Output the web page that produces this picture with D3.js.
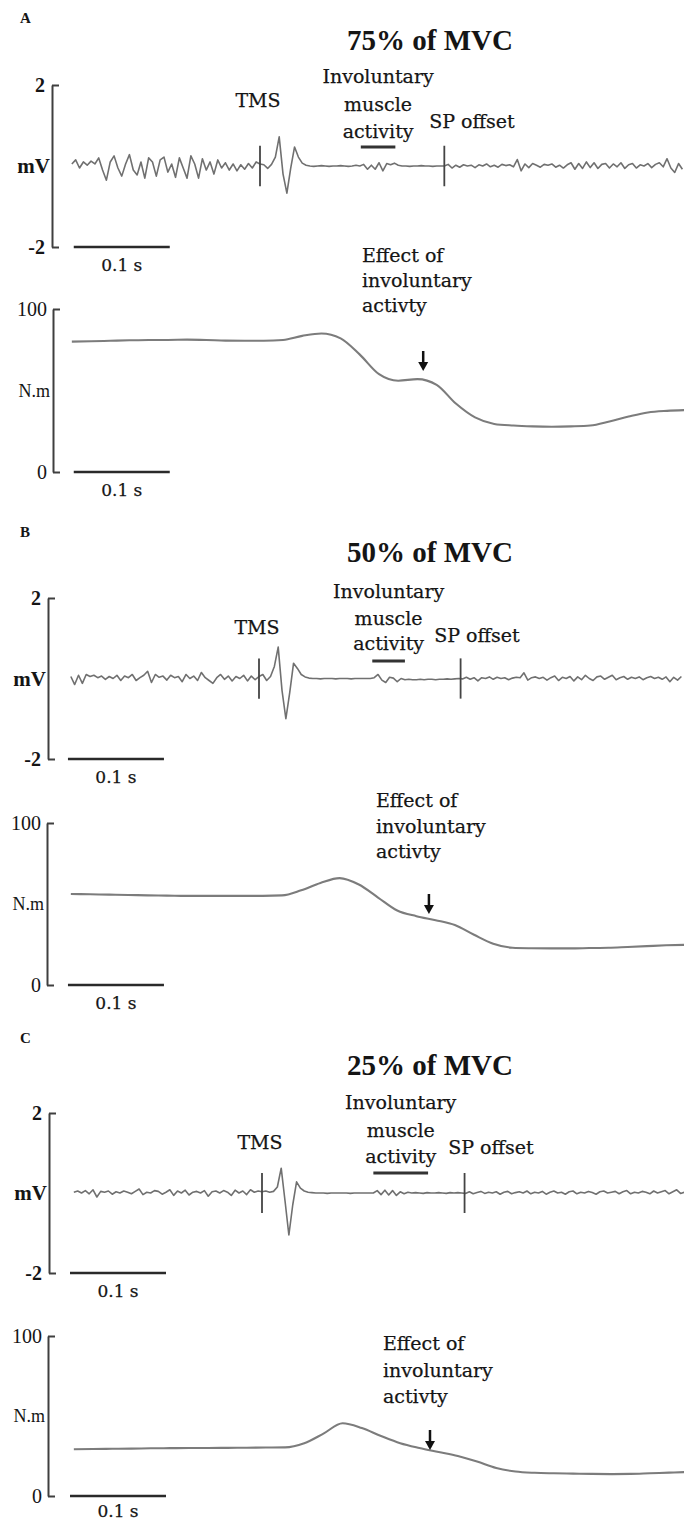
<!DOCTYPE html>
<html>
<head>
<meta charset="utf-8">
<script src="https://cdn.jsdelivr.net/npm/d3@7"></script>
<style>
  body { margin: 0; background: #fff; }
  svg { display: block; }
  text { fill: #151515; }
  .note { stroke: #151515; stroke-width: 0.25px; }
</style>
</head>
<body>
<div class="chart"></div>
<script>
// EMG samples every 4 ms, first sample 196 ms before the TMS pulse (mV)
const emgStart = -0.196, emgStep = 0.004;
const emgA = [
  0.05, 0.15, -0.05, 0.10, 0.02, 0.12, 0.05, 0.20, -0.10, -0.35,
  0.10, 0.25, -0.05, -0.25, 0.05, 0.28, -0.10, -0.22, 0.10, -0.30,
  0.20, 0.10, -0.25, 0.15, 0.22, -0.15, 0.05, -0.28, 0.20, -0.05,
  -0.30, 0.25, 0.05, -0.30, 0.18, -0.10, 0.10, -0.20, 0.15, -0.05,
  0.08, -0.10, 0.05, -0.12, 0.03, -0.08, 0.06, -0.05, 0.10, 0.05,
  0.03, -0.06, 0.04, 0.22, 0.72, -0.20, -0.67, -0.05, 0.47, 0.22,
  0.07, 0.02, 0.00, -0.01, 0.00, 0.01, 0.00, -0.01, 0.00, 0.00,
  0.01, 0.00, -0.01, 0.00, 0.02, 0.00, 0.04, -0.08, 0.02, -0.08,
  0.08, -0.12, 0.06, 0.03, 0.07, 0.02, 0.00, 0.00, -0.01, 0.00,
  0.00, 0.01, 0.00, 0.00, -0.01, 0.00, 0.00, 0.00, 0.04, -0.05,
  0.02, -0.03, 0.03, 0.00, 0.02, -0.04, 0.03, 0.00, 0.05, -0.02,
  0.02, -0.03, 0.04, 0.01, 0.03, -0.02, 0.16, -0.12, 0.05, -0.04,
  0.06, 0.02, -0.03, 0.04, 0.02, 0.05, -0.03, 0.02, -0.05, 0.03,
  0.08, -0.08, 0.06, -0.06, 0.10, -0.04, 0.08, -0.06, 0.04, 0.06,
  -0.05, 0.05, -0.02, 0.08, -0.06, 0.03, 0.06, -0.05, 0.03, 0.00,
  0.06, -0.04, 0.04, 0.08, -0.02, 0.18, -0.05, -0.16, 0.06, -0.08
];
const emgB = [
  0.05, -0.15, 0.08, -0.12, 0.10, 0.05, 0.08, 0.02, 0.06, -0.02,
  0.05, 0.00, 0.08, -0.05, 0.06, 0.02, 0.10, -0.05, 0.02, 0.08,
  0.18, -0.10, 0.10, 0.03, 0.06, -0.04, 0.08, 0.02, 0.05, -0.08,
  0.10, 0.00, 0.06, -0.05, 0.15, 0.02, -0.05, -0.12, 0.02, 0.10,
  -0.02, 0.06, -0.06, 0.05, 0.00, 0.08, -0.06, 0.06, -0.03, 0.05,
  0.10, -0.05, 0.05, 0.30, 0.78, -0.30, -1.00, -0.35, 0.38, 0.25,
  0.10, 0.04, 0.01, 0.00, 0.00, -0.01, 0.00, 0.00, 0.00, -0.01,
  0.00, 0.00, 0.00, -0.01, 0.00, 0.00, 0.00, 0.00, 0.00, 0.02,
  0.10, -0.04, -0.10, 0.03, 0.01, -0.08, 0.00, -0.03, -0.02, -0.03,
  -0.03, -0.02, -0.03, -0.02, -0.02, -0.03, -0.02, -0.02, -0.01, -0.02,
  -0.01, 0.00, -0.01, 0.03, -0.02, 0.02, -0.06, 0.02, 0.00, 0.04,
  -0.02, 0.03, 0.00, 0.02, -0.03, 0.01, 0.03, 0.02, 0.14, -0.04,
  0.02, 0.04, 0.00, 0.03, -0.04, 0.02, 0.06, -0.05, 0.03, 0.00,
  0.05, -0.06, 0.04, -0.03, 0.08, 0.00, -0.05, 0.04, 0.06, -0.02,
  0.03, 0.08, -0.03, 0.02, 0.05, -0.02, 0.03, 0.00, 0.04, -0.03,
  0.02, 0.05, 0.00, 0.03, -0.02, 0.04, -0.08, 0.03, -0.04, 0.05
];
const emgC = [
  0.02, 0.05, 0.00, 0.06, -0.02, 0.08, -0.10, 0.04, 0.02, 0.05,
  -0.03, 0.03, 0.00, 0.05, 0.02, -0.02, 0.04, 0.10, -0.04, 0.02,
  0.00, 0.06, 0.04, -0.03, 0.02, 0.08, -0.06, 0.05, 0.00, 0.07,
  -0.05, 0.02, 0.04, 0.00, 0.06, -0.08, 0.03, 0.05, 0.00, 0.06,
  0.02, -0.06, 0.07, 0.00, 0.05, -0.04, 0.08, 0.02, 0.05, 0.03,
  0.05, 0.02, 0.04, 0.15, 0.62, -0.20, -1.05, -0.30, 0.28, 0.12,
  0.05, 0.02, 0.01, 0.00, 0.00, 0.00, -0.01, 0.00, 0.00, 0.00,
  0.00, 0.00, -0.01, 0.00, 0.00, 0.00, 0.00, 0.00, 0.00, 0.06,
  -0.04, 0.07, -0.05, 0.06, -0.06, 0.03, -0.02, 0.02, 0.00, 0.01,
  0.00, -0.01, 0.01, 0.00, 0.00, 0.01, 0.00, -0.01, 0.01, 0.00,
  0.01, 0.00, -0.01, 0.03, -0.02, 0.01, 0.04, -0.01, 0.02, 0.00,
  0.03, -0.03, 0.02, 0.04, -0.02, 0.01, 0.03, 0.00, 0.05, -0.02,
  0.02, 0.00, 0.04, -0.03, 0.02, 0.05, 0.00, 0.02, -0.03, 0.03,
  0.05, -0.02, 0.02, 0.00, 0.04, 0.01, -0.03, 0.03, 0.05, 0.00,
  0.02, 0.04, -0.02, 0.03, 0.06, -0.02, 0.02, 0.00, 0.04, 0.02,
  -0.02, 0.05, 0.00, 0.03, 0.06, -0.02, 0.03, 0.08, -0.01, 0.02
];

// Torque samples every 20 ms, same start time (N.m)
const torqueStart = -0.196, torqueStep = 0.02;
const torqueA = [80.0, 80.2, 80.5, 80.8, 81.0, 81.0, 81.2, 81.0, 80.6, 80.5, 80.5,
  81.0, 83.5, 85.0, 82.0, 72.0, 60.0, 56.0, 57.0, 53.5, 42.0, 33.5, 29.5, 28.5,
  28.0, 27.8, 28.0, 28.5, 31.0, 34.0, 36.5, 37.5, 38.0];
const torqueB = [56.2, 56.0, 55.8, 55.6, 55.3, 55.2, 55.0, 55.0, 55.0, 55.0, 55.0,
  55.3, 58.5, 63.0, 66.0, 62.0, 54.0, 46.0, 42.5, 40.0, 37.0, 31.0, 25.5, 23.0,
  22.7, 22.6, 22.6, 22.8, 23.0, 23.5, 24.0, 24.5, 24.8];
const torqueC = [29.2, 29.4, 29.5, 29.6, 29.8, 29.9, 30.0, 30.0, 30.1, 30.2, 30.3,
  30.4, 33.0, 39.0, 45.5, 42.5, 37.5, 33.0, 30.0, 27.5, 25.0, 21.5, 17.5, 15.3,
  14.5, 14.2, 14.0, 13.8, 13.7, 13.8, 14.2, 14.6, 15.0];

const panelLetters = ["A", "B", "C"];
const titles = ["75% of MVC", "50% of MVC", "25% of MVC"];
const spOffsetTimes = [0.192, 0.210, 0.211];          // s after TMS
const activityWindows = [[0.105, 0.141], [0.118, 0.152], [0.116, 0.173]];
const arrowTimes = [0.170, 0.177, 0.175];
const scaleBarStart = [-0.194, -0.199, -0.200];
const emgTicks = [2, -2];
const torqueTicks = [100, 0];
const involLines = ["Involuntary", "muscle", "activity"];
const effectLines = ["Effect of", "involuntary", "activty"];

// page positions of each panel
const layout = [
  {tmsX: 260, emgAxisX: 52, emgTop: 85, emgBottom: 247, tqAxisX: 53, tqTop: 309, tqBottom: 472,
   letterY: 23, titleY: 50, tmsLabelY: 107, involY: [83, 111, 138], barY: 147, spLabelX: 472, spLabelY: 128,
   effectX: 362, effectY: [262, 287, 312], arrowTop: 351, arrowBottom: 371},
  {tmsX: 259, emgAxisX: 48, emgTop: 598, emgBottom: 759, tqAxisX: 47, tqTop: 823, tqBottom: 985,
   letterY: 537, titleY: 562, tmsLabelY: 634, involY: [598, 625, 650], barY: 661, spLabelX: 477, spLabelY: 642,
   effectX: 376, effectY: [807, 833, 858], arrowTop: 894, arrowBottom: 914},
  {tmsX: 262, emgAxisX: 49, emgTop: 1113, emgBottom: 1273, tqAxisX: 48, tqTop: 1336, tqBottom: 1496,
   letterY: 1043, titleY: 1075, tmsLabelY: 1149, involY: [1109, 1137, 1163], barY: 1173, spLabelX: 491, spLabelY: 1154,
   effectX: 383, effectY: [1350, 1377, 1403], arrowTop: 1430, arrowBottom: 1450}
];

const emgData = [emgA, emgB, emgC];
const torqueData = [torqueA, torqueB, torqueC];

const serif = "'Liberation Serif', 'Times New Roman', serif";
const book = "'DejaVu Serif', serif";

const svg = d3.select(".chart")
    .append("svg")
    .attr("width", 684)
    .attr("height", 1521);

function styleAxis(axisG, bold, size) {
    axisG.attr("font-family", serif).attr("font-size", size);
    axisG.select(".domain").attr("stroke", "#3f3f3f").attr("stroke-width", 2);
    axisG.selectAll(".tick line").attr("stroke", "#3f3f3f").attr("stroke-width", 2);
    axisG.selectAll(".tick text").attr("fill", "#151515").attr("font-weight", bold ? "bold" : "normal")
        .attr("dy", "0.34em");
}

layout.forEach((L, p) => {
    const g = svg.append("g");

    // time scale: 0.1 s = 96 px, TMS at t = 0
    const x = d3.scaleLinear().domain([0, 0.1]).range([L.tmsX, L.tmsX + 96]);
    const yEmg = d3.scaleLinear().domain([-2, 2]).range([L.emgBottom, L.emgTop]);
    const yTq = d3.scaleLinear().domain([0, 100]).range([L.tqBottom, L.tqTop]);

    // panel letter and title
    g.append("text").attr("x", 20).attr("y", L.letterY)
        .attr("font-family", serif).attr("font-weight", "bold").attr("font-size", 15)
        .text(panelLetters[p]);
    g.append("text").attr("x", 430).attr("y", L.titleY)
        .attr("text-anchor", "middle")
        .attr("font-family", serif).attr("font-weight", "bold").attr("font-size", 29)
        .text(titles[p]);

    // EMG axis
    const emgAxis = g.append("g")
        .attr("transform", `translate(${L.emgAxisX},0)`)
        .call(d3.axisLeft(yEmg).tickValues(emgTicks).tickSizeInner(-7).tickSizeOuter(0)
            .tickPadding(7).tickFormat(d => d < 0 ? "-" + (-d) : d));
    styleAxis(emgAxis, true, 20);
    g.append("text").attr("x", L.emgAxisX - 2).attr("y", yEmg(0) + 7)
        .attr("text-anchor", "end")
        .attr("font-family", serif).attr("font-weight", "bold").attr("font-size", 21)
        .text("mV");

    // EMG trace
    const emgLine = d3.line()
        .x((d, i) => x(emgStart + i * emgStep))
        .y(d => yEmg(d));
    g.append("path")
        .datum(emgData[p])
        .attr("fill", "none")
        .attr("stroke", "#707070")
        .attr("stroke-width", 1.6)
        .attr("stroke-linejoin", "round")
        .attr("d", emgLine);

    // TMS and SP offset markers
    [0, spOffsetTimes[p]].forEach(t => {
        g.append("line")
            .attr("x1", x(t)).attr("x2", x(t))
            .attr("y1", yEmg(0.5)).attr("y2", yEmg(-0.5))
            .attr("stroke", "#444").attr("stroke-width", 1.8);
    });

    // involuntary activity bar
    const w = activityWindows[p];
    g.append("line")
        .attr("x1", x(w[0])).attr("x2", x(w[1]))
        .attr("y1", L.barY).attr("y2", L.barY)
        .attr("stroke", "#333").attr("stroke-width", 3);

    // annotations
    g.append("text").attr("class", "note").attr("x", x(0) - 2).attr("y", L.tmsLabelY)
        .attr("text-anchor", "middle").attr("font-family", book).attr("font-size", 19)
        .text("TMS");
    involLines.forEach((s, i) => {
        g.append("text").attr("class", "note").attr("x", (x(w[0]) + x(w[1])) / 2).attr("y", L.involY[i])
            .attr("text-anchor", "middle").attr("font-family", book).attr("font-size", 19)
            .text(s);
    });
    g.append("text").attr("class", "note").attr("x", L.spLabelX).attr("y", L.spLabelY)
        .attr("text-anchor", "middle").attr("font-family", book).attr("font-size", 19)
        .text("SP offset");

    // scale bars
    [L.emgBottom, L.tqBottom].forEach(yb => {
        const s0 = scaleBarStart[p];
        g.append("line")
            .attr("x1", x(s0)).attr("x2", x(s0 + 0.1))
            .attr("y1", yb).attr("y2", yb)
            .attr("stroke", "#2a2a2a").attr("stroke-width", 2.6);
        g.append("text").attr("class", "note").attr("x", (x(s0) + x(s0 + 0.1)) / 2).attr("y", Math.min(yb + 24, 1517))
            .attr("text-anchor", "middle").attr("font-family", book).attr("font-size", 17)
            .text("0.1 s");
    });

    // torque axis
    const tqAxis = g.append("g")
        .attr("transform", `translate(${L.tqAxisX},0)`)
        .call(d3.axisLeft(yTq).tickValues(torqueTicks).tickSizeInner(-7).tickSizeOuter(0)
            .tickPadding(6));
    styleAxis(tqAxis, false, 20);
    g.append("text").attr("x", L.tqAxisX - 3).attr("y", yTq(50) + 6)
        .attr("text-anchor", "end")
        .attr("font-family", serif).attr("font-size", 18)
        .text("N.m");

    // torque trace
    const tqLine = d3.line()
        .x((d, i) => x(torqueStart + i * torqueStep))
        .y(d => yTq(d))
        .curve(d3.curveMonotoneX);
    g.append("path")
        .datum(torqueData[p])
        .attr("fill", "none")
        .attr("stroke", "#7c7c7c")
        .attr("stroke-width", 2.1)
        .attr("d", tqLine);

    // effect annotation + arrow
    effectLines.forEach((s, i) => {
        g.append("text").attr("class", "note").attr("x", L.effectX).attr("y", L.effectY[i])
            .attr("font-family", book).attr("font-size", 19)
            .text(s);
    });
    const ax = x(arrowTimes[p]);
    g.append("line")
        .attr("x1", ax).attr("x2", ax)
        .attr("y1", L.arrowTop).attr("y2", L.arrowBottom - 6)
        .attr("stroke", "#111").attr("stroke-width", 2.5);
    g.append("path")
        .attr("d", `M${ax - 5},${L.arrowBottom - 9}L${ax + 5},${L.arrowBottom - 9}L${ax},${L.arrowBottom}Z`)
        .attr("fill", "#111");
});
</script>
</body>
</html>
